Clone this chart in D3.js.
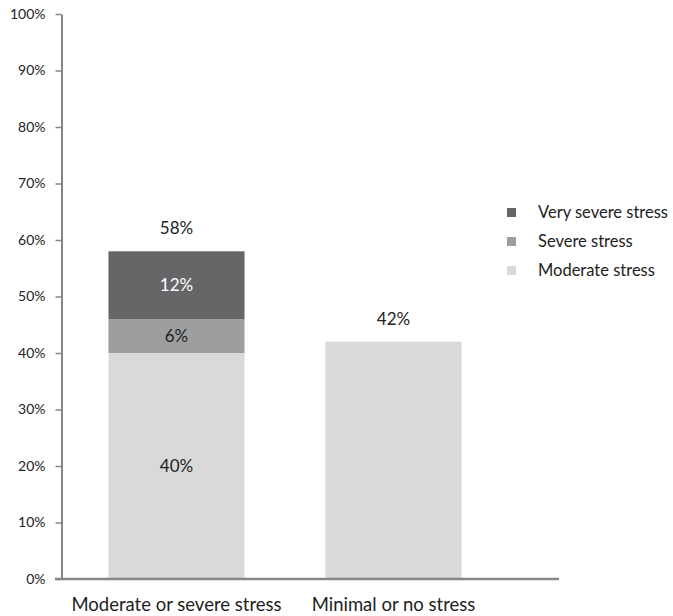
<!DOCTYPE html>
<html>
<head>
<meta charset="utf-8">
<script src="https://cdn.jsdelivr.net/npm/d3@7"></script>
<style>
  html, body { margin: 0; padding: 0; background: #fff; }
  svg { display: block; font-family: Lato, "Open Sans", sans-serif; }
</style>
</head>
<body>
<svg id="chart" width="673" height="616"></svg>
<script>
// Stress levels by group (percent of respondents)
const categories = ["Moderate or severe stress", "Minimal or no stress"];
const seriesNames = ["Moderate stress", "Severe stress", "Very severe stress"];
const moderate = [40, 42];
const severe = [6, 0];
const verySevere = [12, 0];
const totals = [58, 42];
const yTicks = [0, 10, 20, 30, 40, 50, 60, 70, 80, 90, 100];

const colors = {
  "Moderate stress": "#d9d9d9",
  "Severe stress": "#9d9ea0",
  "Very severe stress": "#666668"
};

const svg = d3.select("#chart");
const axisColor = "#868686";
const textColor = "#222222";

const x = d3.scaleBand()
  .domain(categories)
  .range([68, 502])
  .paddingInner(0.373)
  .paddingOuter(0.1865);

const y = d3.scaleLinear().domain([0, 100]).range([579, 14]);

// Stack the series
const rows = categories.map((c, i) => ({
  category: c,
  "Moderate stress": moderate[i],
  "Severe stress": severe[i],
  "Very severe stress": verySevere[i]
}));
const stacked = d3.stack().keys(seriesNames)(rows);

const layers = svg.append("g").selectAll("g")
  .data(stacked)
  .join("g")
  .attr("fill", d => colors[d.key]);

layers.selectAll("rect")
  .data(d => d.map(p => ({ key: d.key, p })))
  .join("rect")
  .filter(d => d.p[1] - d.p[0] > 0)
  .attr("x", d => x(d.p.data.category))
  .attr("width", x.bandwidth())
  .attr("y", d => y(d.p[1]))
  .attr("height", d => y(d.p[0]) - y(d.p[1]));

// Segment labels on the stacked bar
const segLabels = [];
stacked.forEach(layer => {
  layer.forEach(p => {
    const v = p[1] - p[0];
    if (v > 0 && p.data.category === categories[0]) {
      segLabels.push({ key: layer.key, cat: p.data.category, mid: (p[0] + p[1]) / 2, v });
    }
  });
});
svg.append("g").selectAll("text")
  .data(segLabels)
  .join("text")
  .attr("x", d => x(d.cat) + x.bandwidth() / 2)
  .attr("y", d => y(d.mid))
  .attr("dy", "0.35em")
  .attr("text-anchor", "middle")
  .attr("font-size", 17)
  .attr("fill", d => d.key === "Very severe stress" ? "#ffffff" : textColor)
  .text(d => d.v + "%");

// Totals above bars
svg.append("g").selectAll("text")
  .data(categories.map((c, i) => ({ c, t: totals[i] })))
  .join("text")
  .attr("x", d => x(d.c) + x.bandwidth() / 2)
  .attr("y", d => y(d.t) - 23)
  .attr("dy", "0.35em")
  .attr("text-anchor", "middle")
  .attr("font-size", 17)
  .attr("fill", textColor)
  .text(d => d.t + "%");

// Y axis
const yAxis = svg.append("g")
  .attr("transform", "translate(61.5,0)")
  .call(d3.axisLeft(y).tickValues(yTicks).tickSize(6).tickSizeOuter(0).tickPadding(10)
    .tickFormat(d => d + "%"));
yAxis.select(".domain").attr("stroke", axisColor).attr("stroke-width", 2);
yAxis.selectAll(".tick line").attr("stroke", axisColor).attr("stroke-width", 1.5);
yAxis.selectAll(".tick text").attr("fill", textColor).attr("font-size", 14)
  .attr("font-family", "Lato, sans-serif");

// X axis baseline
svg.append("line")
  .attr("x1", 55).attr("x2", 559)
  .attr("y1", y(0)).attr("y2", y(0))
  .attr("stroke", axisColor).attr("stroke-width", 2.5);

// Category labels
svg.append("g").selectAll("text")
  .data(categories)
  .join("text")
  .attr("x", d => x(d) + x.bandwidth() / 2)
  .attr("y", 605)
  .attr("dy", "0.35em")
  .attr("text-anchor", "middle")
  .attr("font-size", 18.5)
  .attr("fill", textColor)
  .text(d => d);

// Legend
const legendItems = seriesNames.slice().reverse();
const legend = svg.append("g").attr("transform", "translate(507,212)");
const li = legend.selectAll("g")
  .data(legendItems)
  .join("g")
  .attr("transform", (d, i) => `translate(0,${i * 29})`);
li.append("rect")
  .attr("x", 0).attr("y", -4).attr("width", 9).attr("height", 9)
  .attr("fill", d => colors[d]);
li.append("text")
  .attr("x", 31)
  .attr("y", 0)
  .attr("dy", "0.35em")
  .attr("font-size", 16.5)
  .attr("fill", textColor)
  .text(d => d);
</script>
</body>
</html>
